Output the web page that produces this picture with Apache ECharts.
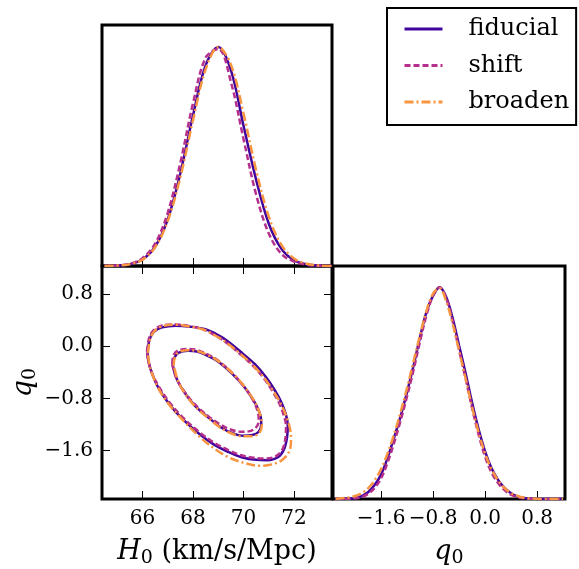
<!DOCTYPE html>
<html>
<head>
<meta charset="utf-8">
<script src="https://cdn.jsdelivr.net/npm/echarts@6/dist/echarts.min.js"></script>
<style>
html, body { margin: 0; padding: 0; background: #fff; }
#chart { width: 579px; height: 569px; }
</style>
</head>
<body>
<div id="chart"></div>
<script>
// H0 一维分布
var h0Grid = [64.5, 65.0, 65.5, 66.0, 66.5, 67.0, 67.5, 68.0, 68.5, 69.0, 69.5, 70.0, 70.5, 71.0, 71.5, 72.0, 72.5, 73.0, 73.5];
var h0Fid = [0.0004, 0.0019, 0.0082, 0.030, 0.088, 0.213, 0.423, 0.687, 0.916, 1.0, 0.894, 0.64, 0.393, 0.193, 0.078, 0.026, 0.007, 0.0015, 0.0003];
var h0Shift = [0.0004, 0.0022, 0.0097, 0.035, 0.102, 0.243, 0.471, 0.742, 0.951, 0.991, 0.840, 0.579, 0.325, 0.148, 0.055, 0.020, 0.006, 0.0012, 0.0002];
var h0Broad = [0.0004, 0.0019, 0.0083, 0.029, 0.085, 0.205, 0.406, 0.665, 0.898, 1.0, 0.919, 0.696, 0.436, 0.225, 0.096, 0.034, 0.010, 0.0023, 0.0005];

// q0 一维分布
var q0Grid = [-2.3, -2.2, -2.1, -2.0, -1.9, -1.8, -1.7, -1.6, -1.5, -1.4, -1.3, -1.2, -1.1, -1.0, -0.9, -0.8, -0.7, -0.6, -0.5, -0.4, -0.3, -0.2, -0.1, 0.0, 0.1, 0.2, 0.3, 0.4, 0.5, 0.6, 0.7, 0.8, 0.9, 1.0, 1.1, 1.2];
var q0Fid = [0, 0.0005, 0.002, 0.005, 0.014, 0.032, 0.066, 0.115, 0.195, 0.29, 0.39, 0.505, 0.63, 0.765, 0.885, 0.96, 1.0, 0.955, 0.855, 0.725, 0.595, 0.455, 0.33, 0.225, 0.145, 0.09, 0.052, 0.027, 0.012, 0.005, 0.0015, 0.0005, 0, 0, 0, 0];
var q0Shift = [0, 0.0003, 0.001, 0.003, 0.009, 0.024, 0.052, 0.098, 0.172, 0.265, 0.37, 0.485, 0.61, 0.745, 0.87, 0.96, 1.0, 0.95, 0.84, 0.705, 0.57, 0.43, 0.305, 0.2, 0.125, 0.075, 0.042, 0.02, 0.009, 0.003, 0.001, 0.0003, 0, 0, 0, 0];
var q0Broad = [0.001, 0.003, 0.007, 0.014, 0.027, 0.05, 0.088, 0.142, 0.215, 0.305, 0.41, 0.525, 0.65, 0.775, 0.89, 0.97, 0.995, 0.935, 0.83, 0.70, 0.57, 0.435, 0.315, 0.215, 0.14, 0.088, 0.052, 0.028, 0.014, 0.006, 0.0025, 0.001, 0.0003, 0, 0, 0];

// 二维等高线 [H0, q0]
var fidOuter = [[66.20, -0.10], [66.28, 0.10], [66.45, 0.22], [66.78, 0.29], [67.31, 0.315], [67.9, 0.30], [68.49, 0.26], [69.0, 0.17], [69.4, 0.07], [69.95, -0.105], [70.45, -0.275], [70.9, -0.48], [71.23, -0.67], [71.5, -0.86], [71.68, -1.05], [71.75, -1.21], [71.72, -1.40], [71.6, -1.58], [71.36, -1.70], [70.95, -1.745], [70.5, -1.74], [69.92, -1.70], [69.4, -1.62], [68.85, -1.51], [68.3, -1.36], [67.57, -1.11], [67.05, -0.88], [66.65, -0.65], [66.39, -0.43], [66.25, -0.25], [66.20, -0.10]];
var fidInner = [[67.2, -0.30], [67.26, -0.18], [67.42, -0.10], [67.8, -0.07], [68.15, -0.08], [68.5, -0.13], [68.9, -0.21], [69.3, -0.33], [69.8, -0.52], [70.18, -0.70], [70.5, -0.90], [70.68, -1.08], [70.70, -1.20], [70.6, -1.31], [70.35, -1.36], [70.0, -1.37], [69.55, -1.33], [69.1, -1.24], [68.7, -1.12], [68.1, -0.92], [67.65, -0.70], [67.38, -0.52], [67.2, -0.30]];
var shiftOuter = [[66.18, -0.08], [66.26, 0.12], [66.43, 0.24], [66.78, 0.32], [67.3, 0.335], [67.85, 0.31], [68.4, 0.26], [68.9, 0.16], [69.3, 0.06], [69.85, -0.115], [70.35, -0.29], [70.8, -0.49], [71.15, -0.69], [71.42, -0.88], [71.6, -1.07], [71.68, -1.22], [71.66, -1.40], [71.55, -1.57], [71.3, -1.68], [70.9, -1.72], [70.45, -1.71], [69.9, -1.67], [69.4, -1.59], [68.85, -1.48], [68.3, -1.33], [67.57, -1.08], [67.05, -0.85], [66.65, -0.62], [66.38, -0.41], [66.23, -0.23], [66.18, -0.08]];
var shiftInner = [[67.18, -0.27], [67.22, -0.15], [67.38, -0.07], [67.76, -0.04], [68.1, -0.05], [68.45, -0.10], [68.85, -0.18], [69.25, -0.30], [69.75, -0.49], [70.12, -0.67], [70.42, -0.86], [70.58, -1.03], [70.6, -1.14], [70.5, -1.24], [70.25, -1.30], [69.9, -1.31], [69.45, -1.27], [69.0, -1.18], [68.6, -1.07], [68.05, -0.88], [67.6, -0.66], [67.33, -0.48], [67.18, -0.27]];
var broadOuter = [[66.22, -0.10], [66.30, 0.10], [66.47, 0.23], [66.8, 0.31], [67.3, 0.33], [67.9, 0.30], [68.45, 0.25], [68.95, 0.15], [69.35, 0.05], [69.9, -0.125], [70.4, -0.30], [70.85, -0.50], [71.2, -0.70], [71.5, -0.90], [71.7, -1.08], [71.83, -1.25], [71.88, -1.41], [71.82, -1.60], [71.5, -1.75], [71.0, -1.82], [70.6, -1.83], [70.05, -1.79], [69.4, -1.70], [68.85, -1.57], [68.3, -1.40], [67.57, -1.12], [67.05, -0.89], [66.65, -0.66], [66.40, -0.44], [66.26, -0.25], [66.22, -0.10]];
var broadInner = [[67.24, -0.30], [67.28, -0.17], [67.44, -0.09], [67.8, -0.06], [68.15, -0.07], [68.5, -0.12], [68.9, -0.20], [69.3, -0.32], [69.8, -0.51], [70.17, -0.69], [70.5, -0.89], [70.68, -1.08], [70.72, -1.21], [70.62, -1.33], [70.35, -1.38], [70.0, -1.38], [69.55, -1.34], [69.1, -1.25], [68.7, -1.13], [68.1, -0.93], [67.66, -0.71], [67.4, -0.52], [67.24, -0.30]];

// 刻度
var h0Ticks = [66, 68, 70, 72];
var q0Ticks = [-1.6, -0.8, 0.0, 0.8];

var h0Min = 64.4, h0Max = 73.5;
var q0Min = -2.34, q0Max = 1.23;

var names = ['fiducial', 'shift', 'broaden'];
var colors = ['#41049d', '#b52f8c', '#f89540'];
var dashes = ['solid', [6, 3], [9, 3, 2, 3]];
var serif = 'DejaVu Serif';

function pairs(xs, ys) {
	var out = [];
	for(var i = 0; i < xs.length; i++) {
		out.push([xs[i], ys[i]]);
	}
	return out;
}

function fmtQ(v) {
	var s = Math.abs(v).toFixed(1);
	return v < -1e-9 ? '\u2212' + s : s;
}

function tickOnly(vals) {
	return {
		show: true,
		inside: true,
		length: 8,
		customValues: vals,
		lineStyle: { color: '#000', width: 1 }
	};
}

var noLine = { show: false, onZero: false };

var rich = {
	it: { fontFamily: serif, fontStyle: 'italic', fontSize: 27, color: '#000' },
	sub: { fontFamily: serif, fontSize: 19, color: '#000', padding: [14, 0, 0, 0] },
	rm: { fontFamily: serif, fontSize: 27, color: '#000' }
};

var myChart = echarts.init(document.getElementById('chart'), null, { renderer: 'canvas' });

var grids = [
	{ left: 102, top: 25, width: 230, height: 241 },
	{ left: 102, top: 266, width: 230, height: 240 },
	{ left: 333, top: 266, width: 232, height: 240 }
];
grids.forEach(function(g) {
	g.show = true;
	g.borderColor = '#000';
	g.borderWidth = 3;
	g.backgroundColor = 'transparent';
	g.containLabel = false;
});

var xAxes = [
	{ // 上左 H0
		type: 'value', gridIndex: 0, min: h0Min, max: h0Max,
		axisLine: noLine, splitLine: { show: false },
		axisTick: tickOnly(h0Ticks),
		axisLabel: { show: false }
	},
	{ // 下左 H0
		type: 'value', gridIndex: 1, min: h0Min, max: h0Max,
		axisLine: noLine, splitLine: { show: false },
		axisTick: tickOnly(h0Ticks),
		axisLabel: {
			customValues: h0Ticks, margin: 10,
			fontFamily: serif, fontSize: 20, color: '#000',
			formatter: function(v) { return String(v); }
		},
		name: '{it|H}{sub|0}{rm| (km/s/Mpc)}',
		nameLocation: 'middle', nameGap: 36,
		nameTextStyle: { rich: rich }
	},
	{ // 下左 顶部刻度
		type: 'value', gridIndex: 1, position: 'top', min: h0Min, max: h0Max,
		axisLine: noLine, splitLine: { show: false },
		axisTick: tickOnly(h0Ticks),
		axisLabel: { show: false }
	},
	{ // 下右 q0
		type: 'value', gridIndex: 2, min: q0Min, max: q0Max,
		axisLine: noLine, splitLine: { show: false },
		axisTick: tickOnly(q0Ticks),
		axisLabel: {
			customValues: q0Ticks, margin: 10,
			fontFamily: serif, fontSize: 20, color: '#000',
			formatter: fmtQ
		},
		name: '{it|q}{sub|0}',
		nameLocation: 'middle', nameGap: 36,
		nameTextStyle: { rich: rich }
	}
];

var yAxes = [
	{
		type: 'value', gridIndex: 0, min: 0, max: 1.1,
		axisLine: noLine, splitLine: { show: false },
		axisTick: { show: false }, axisLabel: { show: false }
	},
	{
		type: 'value', gridIndex: 1, min: q0Min, max: q0Max,
		axisLine: noLine, splitLine: { show: false },
		axisTick: tickOnly(q0Ticks),
		axisLabel: {
			customValues: q0Ticks, margin: 9,
			fontFamily: serif, fontSize: 20, color: '#000',
			formatter: fmtQ
		},
		name: '{it|q}{sub|0}',
		nameLocation: 'middle', nameGap: 62,
		nameTextStyle: { rich: rich }
	},
	{
		type: 'value', gridIndex: 1, position: 'right', min: q0Min, max: q0Max,
		axisLine: noLine, splitLine: { show: false },
		axisTick: tickOnly(q0Ticks),
		axisLabel: { show: false }
	},
	{
		type: 'value', gridIndex: 2, min: 0, max: 1.1,
		axisLine: noLine, splitLine: { show: false },
		axisTick: { show: false }, axisLabel: { show: false }
	}
];

function lineSeries(k, xi, yi, data) {
	return {
		name: names[k],
		type: 'line',
		xAxisIndex: xi,
		yAxisIndex: yi,
		data: data,
		smooth: 0.35,
		symbol: 'none',
		silent: true,
		animation: false,
		lineStyle: { color: colors[k], width: 2.5, type: dashes[k] },
		itemStyle: { color: colors[k] },
		z: 3 + k
	};
}

var h0Sets = [h0Fid, h0Shift, h0Broad];
var q0Sets = [q0Fid, q0Shift, q0Broad];
var outerSets = [fidOuter, shiftOuter, broadOuter];
var innerSets = [fidInner, shiftInner, broadInner];

var series = [];
for(var k = 0; k < 3; k++) {
	series.push(lineSeries(k, 0, 0, pairs(h0Grid, h0Sets[k])));
	series.push(lineSeries(k, 1, 1, outerSets[k]));
	series.push(lineSeries(k, 1, 1, innerSets[k]));
	series.push(lineSeries(k, 3, 3, pairs(q0Grid, q0Sets[k])));
}

var option = {
	backgroundColor: '#fff',
	animation: false,
	grid: grids,
	xAxis: xAxes,
	yAxis: yAxes,
	legend: {
		data: names,
		orient: 'vertical',
		left: 387,
		top: 8,
		padding: [9, 7, 11, 16],
		borderColor: '#000',
		borderWidth: 2,
		backgroundColor: '#fff',
		itemWidth: 38,
		itemHeight: 12,
		itemGap: 12.5,
		selectedMode: false,
		itemStyle: { opacity: 0 },
		lineStyle: { width: 3 },
		textStyle: {
			fontFamily: serif,
			fontSize: 24,
			lineHeight: 24,
			color: '#000',
			padding: [0, 0, 0, 21]
		}
	},
	series: series
};
myChart.setOption(option);
</script>
</body>
</html>
